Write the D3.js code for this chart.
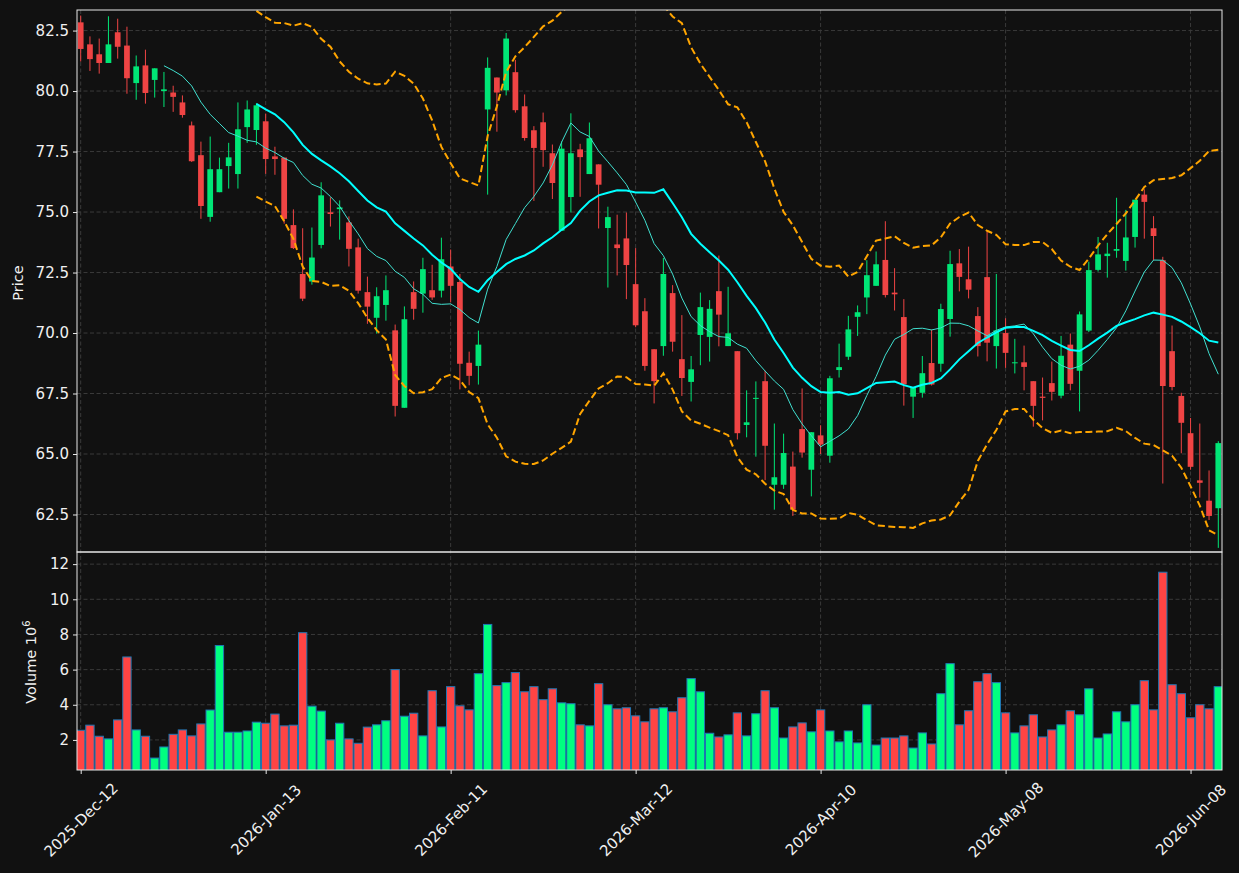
<!DOCTYPE html>
<meta charset="utf-8">
<html>
<head>
<style>
  body { margin: 0; background: #111111; }
  svg text { font-family: "DejaVu Sans", sans-serif; fill: #f0f0f0; }
</style>
</head>
<body>
<div id="chart"></div>
<script src="https://d3js.org/d3.v7.min.js"></script>
<script>
// daily bars (prices in $, volume in millions)
var opens = [82.84,81.93,81.52,81.16,82.43,81.88,80.33,81.06,80.46,80.00,
  79.94,79.53,78.58,77.35,74.80,75.82,76.90,76.57,78.51,78.39,
  78.75,77.30,77.25,74.46,72.44,72.13,73.64,74.99,75.12,74.57,
  73.54,71.69,70.63,71.16,70.11,66.91,71.69,71.63,71.77,71.75,
  72.75,72.11,68.77,68.64,79.24,80.56,80.03,80.78,79.37,78.38,
  78.71,77.43,74.23,75.62,77.59,76.57,76.97,74.34,73.66,73.91,
  72.02,70.90,69.33,69.46,71.65,68.92,67.98,69.92,69.84,71.73,
  69.46,69.25,66.20,67.28,68.01,63.73,63.73,64.48,66.03,64.35,
  65.77,64.93,68.47,69.02,70.67,71.47,71.95,73.02,71.67,70.66,
  67.37,67.53,68.76,68.73,70.58,72.88,72.22,70.70,72.31,69.46,
  70.00,68.75,68.79,68.01,67.37,67.93,67.41,69.52,68.44,70.10,
  72.61,73.18,73.40,72.98,73.97,75.72,74.33,73.01,69.25,67.40,
  65.86,63.91,63.07,62.76];
var highs = [83.12,82.26,82.17,83.09,82.99,82.66,81.47,81.71,80.94,80.79,
  80.22,79.82,78.74,77.91,78.12,77.25,77.86,79.53,79.61,79.50,
  79.07,77.70,77.25,75.11,74.33,74.36,76.23,75.61,75.48,74.82,
  73.90,72.33,71.89,72.38,70.35,71.10,72.13,73.11,72.82,73.94,
  73.45,72.44,69.23,70.10,81.39,80.56,82.40,81.29,79.86,78.55,
  79.11,77.79,77.92,79.08,77.82,78.70,76.97,75.22,74.89,74.98,
  73.51,71.44,69.33,73.10,71.98,70.74,69.05,71.67,71.36,73.20,
  71.91,69.25,67.63,68.00,68.44,66.26,65.84,65.10,67.71,65.90,
  66.19,68.23,69.56,70.71,71.14,73.01,73.37,74.62,72.68,71.40,
  67.77,69.05,70.14,71.21,73.40,73.47,73.57,71.07,74.19,72.44,
  70.61,69.76,69.48,68.01,68.16,68.82,69.88,69.98,70.89,72.95,
  73.97,73.73,75.59,75.09,75.51,75.94,74.83,73.15,70.31,67.53,
  66.49,66.26,64.32,65.53];
var lows = [81.22,80.83,80.72,81.16,81.34,79.89,79.64,79.48,79.73,79.34,
  79.14,78.90,77.07,74.72,74.60,75.82,75.97,75.97,77.86,77.78,
  76.58,76.54,74.52,73.47,71.32,72.00,73.50,74.40,73.86,72.75,
  71.63,70.38,69.98,70.51,66.55,66.91,70.55,70.84,71.37,71.47,
  71.27,67.67,67.84,67.87,75.72,78.32,79.82,79.11,77.95,75.46,
  76.87,75.54,74.23,74.98,75.63,76.57,74.32,71.88,72.38,71.40,
  70.24,68.44,67.09,69.06,69.23,67.40,67.17,68.67,68.82,69.45,
  69.46,65.60,65.69,64.89,63.92,62.70,63.56,62.44,64.85,63.25,
  65.00,64.64,68.16,68.89,69.88,70.78,71.95,71.47,70.93,67.00,
  66.49,67.33,67.83,68.40,69.85,71.72,71.43,69.03,68.83,68.53,
  68.56,68.33,67.63,66.13,66.39,67.21,67.30,67.63,66.76,70.04,
  72.54,72.29,73.11,72.58,73.53,73.90,73.00,63.78,67.63,65.03,
  64.35,63.20,62.27,61.12];
var closes = [81.74,81.32,81.16,81.93,81.83,80.53,81.02,79.92,80.94,80.07,
  79.76,79.01,77.10,75.25,76.77,76.77,77.26,78.42,79.24,79.41,
  77.19,77.19,74.72,73.51,71.42,73.12,75.69,74.92,75.19,73.48,
  71.75,71.09,71.52,71.77,66.99,70.57,71.00,72.64,71.47,73.05,
  71.95,68.73,68.23,69.52,80.96,79.94,82.17,79.21,78.06,77.65,
  77.56,76.20,77.62,77.43,77.27,78.05,76.13,74.79,73.51,72.81,
  70.32,68.64,68.01,72.44,69.64,68.14,68.50,71.07,71.00,70.76,
  69.99,65.86,66.31,67.32,65.34,64.04,65.04,62.70,65.06,65.90,
  65.39,68.13,68.59,70.15,70.86,72.39,72.84,71.57,71.60,67.88,
  67.77,68.34,67.87,70.99,72.85,72.32,71.79,69.46,69.60,70.11,
  69.18,68.79,68.60,66.99,67.32,67.57,69.06,67.90,70.77,72.60,
  73.25,73.28,73.47,73.95,75.51,75.42,74.01,67.81,67.77,66.29,
  64.47,63.81,62.44,65.45];
var volumes = [2.55,2.84,2.21,2.06,3.14,6.72,2.57,2.21,0.97,1.60,
  2.32,2.57,2.23,2.91,3.70,7.37,2.44,2.44,2.51,3.01,
  2.95,3.47,2.80,2.84,8.10,3.92,3.64,2.00,2.95,2.06,
  1.81,2.73,2.86,3.09,6.00,3.35,3.52,2.23,4.80,2.74,
  5.03,3.94,3.71,5.77,8.57,5.09,5.26,5.83,4.74,5.03,
  4.29,4.91,4.11,4.06,2.86,2.80,5.20,4.00,3.77,3.83,
  3.37,3.03,3.77,3.83,3.60,4.40,5.49,4.74,2.38,2.17,
  2.29,3.54,2.23,3.49,4.80,3.83,2.11,2.74,2.97,2.46,
  3.71,2.51,1.89,2.51,1.83,4.00,1.71,2.11,2.11,2.23,
  1.54,2.40,1.77,4.63,6.34,2.86,3.66,5.31,5.77,5.26,
  3.54,2.40,2.80,3.43,2.17,2.57,2.86,3.66,3.43,4.91,
  2.11,2.34,3.60,3.03,4.00,5.37,3.71,11.54,5.14,4.63,
  3.26,4.00,3.77,5.03];
var tickIdx = [0, 20, 40, 60, 80, 100, 120];
var tickLabels = ["2025-Dec-12", "2026-Jan-13", "2026-Feb-11", "2026-Mar-12",
  "2026-Apr-10", "2026-May-08", "2026-Jun-08"];
var priceTicks = [62.5, 65, 67.5, 70, 72.5, 75, 77.5, 80, 82.5];
var volTicks = [2, 4, 6, 8, 10, 12];

var W = 1239, H = 873;
var L = 77, R = 1222, pTop = 10, pBot = 552, vTop = 552, vBot = 770;

var svg = d3.select("#chart").append("svg")
    .attr("width", W).attr("height", H)
    .style("background", "#111111");

var n = closes.length;
var x = d3.scaleLinear().domain([-0.4, n - 0.6]).range([L, R]);
var yP = d3.scaleLinear().domain([60.95, 83.35]).range([pBot, pTop]);
var yV = d3.scaleLinear().domain([0.29, 12.69]).range([vBot, vTop]);
var step = x(1) - x(0);

// rolling mean / std of the closes (std over the window, ddof 0)
function rolling(len, fn) {
  return closes.map(function (c, i) {
    if (i < len - 1) return null;
    return fn(closes.slice(i - len + 1, i + 1));
  });
}
var ma10 = rolling(10, d3.mean);
var ma20 = rolling(20, d3.mean);
var sd20 = rolling(20, function (w) {
  var m = d3.mean(w);
  return Math.sqrt(d3.mean(w, function (v) { return (v - m) * (v - m); }));
});
var bbUp = ma20.map(function (m, i) { return m === null ? null : m + 2 * sd20[i]; });
var bbDn = ma20.map(function (m, i) { return m === null ? null : m - 2 * sd20[i]; });

var defs = svg.append("defs");
defs.append("clipPath").attr("id", "clipP").append("rect")
    .attr("x", L).attr("y", pTop).attr("width", R - L).attr("height", pBot - pTop);
defs.append("clipPath").attr("id", "clipV").append("rect")
    .attr("x", L).attr("y", vTop).attr("width", R - L).attr("height", vBot - vTop);

// grid
var grid = svg.append("g").attr("stroke", "#3a3a3a").attr("stroke-width", 1)
    .attr("stroke-dasharray", "4,2.5");
grid.selectAll(".gp").data(priceTicks).enter().append("line")
    .attr("x1", L).attr("x2", R)
    .attr("y1", function (d) { return yP(d); }).attr("y2", function (d) { return yP(d); });
grid.selectAll(".gv").data(volTicks).enter().append("line")
    .attr("x1", L).attr("x2", R)
    .attr("y1", function (d) { return yV(d); }).attr("y2", function (d) { return yV(d); });
grid.selectAll(".gx").data(tickIdx).enter().append("line")
    .attr("x1", function (d) { return x(d); }).attr("x2", function (d) { return x(d); })
    .attr("y1", pTop).attr("y2", vBot);

// candles
var up = "#00e676", down = "#ef4444";
var candles = svg.append("g").attr("clip-path", "url(#clipP)");
var idx = d3.range(n);
candles.selectAll(".wick").data(idx).enter().append("line")
    .attr("x1", function (i) { return x(i); }).attr("x2", function (i) { return x(i); })
    .attr("y1", function (i) { return yP(highs[i]); })
    .attr("y2", function (i) { return yP(lows[i]); })
    .attr("stroke", function (i) { return closes[i] >= opens[i] ? up : down; })
    .attr("stroke-width", 1);
var bw = step * 0.62;
candles.selectAll(".body").data(idx).enter().append("rect")
    .attr("x", function (i) { return x(i) - bw / 2; })
    .attr("width", bw)
    .attr("y", function (i) { return yP(Math.max(opens[i], closes[i])); })
    .attr("height", function (i) {
      return Math.max(1, Math.abs(yP(opens[i]) - yP(closes[i])));
    })
    .attr("fill", function (i) { return closes[i] >= opens[i] ? up : down; });

// moving averages and bands
function lineOf(vals) {
  return d3.line()
      .defined(function (d) { return d !== null; })
      .x(function (d, i) { return x(i); })
      .y(function (d) { return yP(d); })(vals);
}
candles.append("path").attr("d", lineOf(bbUp)).attr("fill", "none")
    .attr("stroke", "#ffa500").attr("stroke-width", 2).attr("stroke-dasharray", "7,3.5");
candles.append("path").attr("d", lineOf(bbDn)).attr("fill", "none")
    .attr("stroke", "#ffa500").attr("stroke-width", 2).attr("stroke-dasharray", "7,3.5");
candles.append("path").attr("d", lineOf(ma10)).attr("fill", "none")
    .attr("stroke", "#40e0d0").attr("stroke-width", 1);
candles.append("path").attr("d", lineOf(ma20)).attr("fill", "none")
    .attr("stroke", "#00ffff").attr("stroke-width", 2);

// volume
var vw = step * 0.9;
svg.append("g").attr("clip-path", "url(#clipV)")
  .selectAll("rect").data(idx).enter().append("rect")
    .attr("x", function (i) { return x(i) - vw / 2; })
    .attr("width", vw)
    .attr("y", function (i) { return yV(volumes[i]); })
    .attr("height", function (i) { return vBot - yV(volumes[i]) + 2; })
    .attr("fill", function (i) { return closes[i] >= opens[i] ? "#00ff80" : "#ff4444"; })
    .attr("stroke", "#1f77b4").attr("stroke-width", 1);

// frames
svg.append("rect").attr("x", L).attr("y", pTop).attr("width", R - L).attr("height", pBot - pTop)
    .attr("fill", "none").attr("stroke", "#e8e8e8").attr("stroke-width", 1);
svg.append("rect").attr("x", L).attr("y", vTop).attr("width", R - L).attr("height", vBot - vTop)
    .attr("fill", "none").attr("stroke", "#e8e8e8").attr("stroke-width", 1);

// axes
function styleAxis(g) {
  g.select(".domain").remove();
  g.selectAll(".tick line").attr("stroke", "#e8e8e8");
  g.selectAll(".tick text").style("font-size", "15px").attr("fill", "#f0f0f0");
}
svg.append("g").attr("transform", "translate(" + L + ",0)")
    .call(d3.axisLeft(yP).tickValues(priceTicks).tickFormat(d3.format(".1f")).tickSize(4).tickPadding(4))
    .call(styleAxis);
svg.append("g").attr("transform", "translate(" + L + ",0)")
    .call(d3.axisLeft(yV).tickValues(volTicks).tickFormat(d3.format("d")).tickSize(4).tickPadding(4))
    .call(styleAxis);
var xa = svg.append("g").attr("transform", "translate(0," + vBot + ")")
    .call(d3.axisBottom(x).tickValues(tickIdx)
      .tickFormat(function (d) { return tickLabels[tickIdx.indexOf(d)]; }).tickSize(4))
    .call(styleAxis);
xa.selectAll(".tick text")
    .attr("y", 0).attr("dy", null)
    .attr("text-anchor", "middle").attr("dominant-baseline", "central")
    .attr("transform", "translate(0,50) rotate(-45)");

// axis titles
svg.append("text").attr("transform", "translate(23,283) rotate(-90)")
    .attr("text-anchor", "middle").style("font-size", "14.5px").text("Price");
var vt = svg.append("text").attr("transform", "translate(36,662) rotate(-90)")
    .attr("text-anchor", "middle").style("font-size", "14.5px");
vt.append("tspan").text("Volume  10");
vt.append("tspan").attr("dy", -6).style("font-size", "10px").text("6");
</script>
</body>
</html>
